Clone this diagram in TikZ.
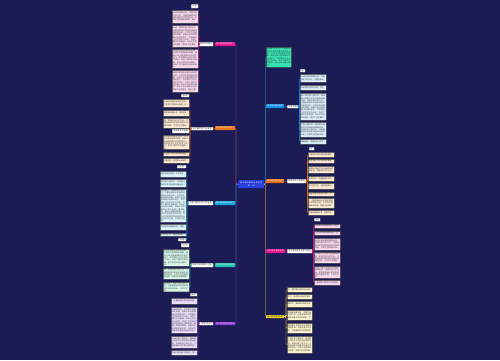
\documentclass[tikz,border=0pt]{standalone}
\usepackage{fontspec}
\setmainfont{Noto Sans CJK SC}
\usepackage{xstring}
\usetikzlibrary{positioning}
\XeTeXlinebreaklocale "zh"
\XeTeXlinebreakskip=0pt plus 1pt

\definecolor{bg}{RGB}{27,27,86}
\definecolor{cblue}{RGB}{40,62,218}
\definecolor{cmag}{RGB}{226,24,140}
\definecolor{corange}{RGB}{232,114,26}
\definecolor{ccyan}{RGB}{26,166,214}
\definecolor{cteal}{RGB}{30,194,172}
\definecolor{cpurple}{RGB}{139,47,214}
\definecolor{caqua}{RGB}{53,230,181}
\definecolor{cblue2}{RGB}{26,143,230}
\definecolor{cyellow}{RGB}{240,208,32}
\definecolor{lpink}{RGB}{247,214,238}
\definecolor{lbeige}{RGB}{251,232,210}
\definecolor{lcyan}{RGB}{217,241,251}
\definecolor{lmint}{RGB}{214,247,234}
\definecolor{llav}{RGB}{233,220,250}
\definecolor{lblue}{RGB}{217,236,251}
\definecolor{lyellow}{RGB}{251,243,207}

\newcommand{\filler}{在高三数学复习教学中，教师要认真研究考试说明和课程标准，把握好复习的方向，注重基础知识的落实和基本技能的训练，引导学生构建知识网络，提高分析问题和解决问题的能力。同时要关注学生的学习状态，及时了解学生的困难，有针对性地进行辅导，使每个学生都能在原有基础上得到提高。课堂上要精讲精练，留给学生足够的思考时间，培养学生的数学思维品质和良好的学习习惯。反思自己的教学过程，总结经验教训，不断改进教学方法，提高课堂教学效率。要重视试卷讲评课，讲评时要突出重点，分析错误原因，归纳解题方法，让学生在反思中提高。}

% box from corner (x1,y1) to corner (x2,y2), picture units
\newcommand{\mmbox}[7]{%
  \pgfmathsetmacro\mmW{(#5-#3)*0.03}%
  \pgfmathsetmacro\mmH{(#6-#4)*0.03}%
  \pgfmathsetmacro\mmT{(#5-#3)*0.8536-1.4}%
  \node[#2, anchor=north west, minimum width=\mmW cm, minimum height=\mmH cm, text width=\mmT pt] (#1) at (#3,#4) {#7};}
\newcommand{\leafbox}[6]{%
  \pgfmathtruncatemacro\mmL{max(1,((#6-#4)*0.8536-1.2)/2)}%
  \pgfmathtruncatemacro\mmC{((#5-#3)*0.8536-1.6)/1.6}%
  \pgfmathtruncatemacro\mmN{\mmL*\mmC}%
  \pgfmathtruncatemacro\mmA{mod(#4*7,50)+1}%
  \pgfmathtruncatemacro\mmB{\mmA+\mmN-1}%
  \StrMid{\filler}{\mmA}{\mmB}[\mmText]%
  \mmbox{#1}{#2}{#3}{#4}{#5}{#6}{\mmText}}

\begin{document}
\begin{tikzpicture}[x=0.03cm, y=-0.03cm, font=\fontsize{1.6}{2}\selectfont,
    box/.style={inner xsep=0.7pt, inner ysep=0.4pt, rounded corners=0.3pt, align=left},
    mainnode/.style={box, fill=#1, text=white, align=center},
    subnode/.style={box, fill=white, draw=black!60, line width=0.3pt, text=black!80, align=center},
    leafnode/.style={box, fill=#1, draw=black!75, line width=0.45pt, text=black!75},
    tagnode/.style={box, fill=white!92!gray, draw=black!60, line width=0.3pt, text=black!80, align=center},
    link/.style={draw=#1, line width=0.35pt, rounded corners=1pt}]
    \fill[bg] (0,0) rectangle (500,360);

    \mmbox{root}{mainnode=cblue}{238}{180}{264}{188}{高三数学教学反思范文\\精选}

    % left side
    \mmbox{L1}{mainnode=cmag}{215}{42}{235}{46}{高三数学教学反思一}
    \mmbox{s1}{subnode}{199}{42}{213}{46}{教学反思要点}
    \mmbox{t1}{tagnode}{191}{4}{198}{8}{反思}
    \draw[link=cmag] (root.west) -- ++(-2,0) |- (L1.east);
    \draw[link=cmag] (L1.west) -- (s1.east);
    \foreach \ya/\yb [count=\i] in {10/23,25/47,49/68,70/92} {
        \leafbox{l1-\i}{leafnode=lpink}{172}{\ya}{198}{\yb}
        \draw[link=cmag] (s1.west) -- ++(-0.5,0) |- (l1-\i.east);
    }

    \mmbox{L2}{mainnode=corange}{215}{126}{235}{130}{高三数学教学反思二}
    \mmbox{s2}{subnode}{191}{127}{213}{130}{复习教学的几点反思}
    \mmbox{t2}{tagnode}{181}{94}{189}{97}{反思}
    \draw[link=corange] (root.west) -- ++(-2,0) |- (L2.east);
    \draw[link=corange] (L2.west) -- (s2.east);
    \foreach \ya/\yb [count=\i] in {99/107,110/116,118/128,135/149,152/156,158/163} {
        \leafbox{l2-\i}{leafnode=lbeige}{163}{\ya}{189}{\yb}
        \draw[link=corange] (s2.west) -- ++(-1,0) |- (l2-\i.east);
    }
    \mmbox{x2}{subnode}{172}{129}{189}{133}{课堂教学的体会}
    \draw[link=corange] (s2.west) -- ++(-1,0) |- (x2.east);

    \mmbox{L3}{mainnode=ccyan}{215}{201}{235}{205}{高三数学教学反思三}
    \mmbox{s3}{subnode}{188}{201}{213}{205}{对数学教学的几点思考}
    \mmbox{t3}{tagnode}{177}{165}{186}{168}{反思}
    \draw[link=ccyan] (root.west) -- ++(-2,0) |- (L3.east);
    \draw[link=ccyan] (L3.west) -- (s3.east);
    \foreach \ya/\yb [count=\i] in {171/177,179/187,189/221,224/230,233/236} {
        \leafbox{l3-\i}{leafnode=lcyan}{160}{\ya}{186}{\yb}
        \draw[link=ccyan] (s3.west) -- ++(-1,0) |- (l3-\i.east);
    }
    \mmbox{x3}{tagnode}{178}{238}{186}{241}{总结}
    \draw[link=ccyan] (s3.west) -- ++(-1,0) |- (x3.east);

    \mmbox{L4}{mainnode=cteal}{215}{263}{235}{267}{高三数学教学反思四}
    \mmbox{s4}{subnode}{191}{263}{213}{267}{教学中的问题与对策}
    \mmbox{t4}{tagnode}{181}{243}{189}{247}{反思}
    \draw[link=cteal] (root.west) -- ++(-2,0) |- (L4.east);
    \draw[link=cteal] (L4.west) -- (s4.east);
    \foreach \ya/\yb [count=\i] in {249/266,268/279,282/291} {
        \leafbox{l4-\i}{leafnode=lmint}{163}{\ya}{189}{\yb}
        \draw[link=cteal] (s4.west) -- ++(-1,0) |- (l4-\i.east);
    }

    \mmbox{L5}{mainnode=cpurple}{215}{322}{235}{325}{高三数学教学反思五}
    \mmbox{s5}{subnode}{199}{322}{213}{325}{教学总结}
    \mmbox{t5}{tagnode}{190}{293}{197}{296}{反思}
    \draw[link=cpurple] (root.west) -- ++(-2,0) |- (L5.east);
    \draw[link=cpurple] (L5.west) -- (s5.east);
    \foreach \ya/\yb [count=\i] in {298/304,307/333,336/348,350/355} {
        \leafbox{l5-\i}{leafnode=llav}{171}{\ya}{197}{\yb}
        \draw[link=cpurple] (s5.west) -- ++(-1,0) |- (l5-\i.east);
    }

    % right side
    \leafbox{R0}{leafnode=caqua}{266}{47}{291}{67}
    \draw[link=cteal] (root.east) -- ++(1,0) |- (R0.west);

    \mmbox{R1}{mainnode=cblue2}{266}{104}{284}{108}{高三数学教学反思}
    \mmbox{r1}{subnode}{287}{105}{298}{108}{反思总结}
    \mmbox{u1}{tagnode}{300}{69}{305}{72}{注}
    \draw[link=cblue2] (root.east) -- ++(1,0) |- (R1.west);
    \draw[link=cblue2] (R1.east) -- (r1.west);
    \foreach \ya/\yb [count=\i] in {74/82,85/90,93/120,122/137,139/144} {
        \leafbox{q1-\i}{leafnode=lblue}{300}{\ya}{326}{\yb}
        \draw[link=cblue2] (r1.east) -- ++(1,0) |- (q1-\i.west);
    }

    \mmbox{R2}{mainnode=corange}{266}{179}{284}{183}{高三数学教学反思}
    \mmbox{r2}{subnode}{287}{179}{306}{183}{教学中的几点体会}
    \mmbox{u2}{tagnode}{309}{147}{314}{150}{注}
    \draw[link=corange] (root.east) -- (R2.west);
    \draw[link=corange] (R2.east) -- (r2.west);
    \foreach \ya/\yb [count=\i] in {152/157,159/163,166/173,176/181,183/189,192/196,198/208,210/215} {
        \leafbox{q2-\i}{leafnode=lbeige}{308}{\ya}{334}{\yb}
        \draw[link=corange] (r2.east) -- ++(1,0) |- (q2-\i.west);
    }

    \mmbox{R3}{mainnode=cmag}{266}{249}{285}{253}{高三数学教学反思}
    \mmbox{r3}{subnode}{287}{249}{312}{253}{高三数学教学反思与改进}
    \mmbox{u3}{tagnode}{314}{218}{320}{221}{反思}
    \draw[link=cmag] (root.east) -- ++(1,0) |- (R3.west);
    \draw[link=cmag] (R3.east) -- (r3.west);
    \foreach \ya/\yb [count=\i] in {224/228,231/235,238/250,252/263,266/278,280/285} {
        \leafbox{q3-\i}{leafnode=lpink}{314}{\ya}{340}{\yb}
        \draw[link=cmag] (r3.east) -- ++(1,0) |- (q3-\i.west);
    }

    \mmbox{R4}{mainnode=cyellow, text=black!80}{266}{315}{284}{318}{高三数学教学反思}
    \draw[link=cyellow] (root.east) -- ++(1,0) |- (R4.west);
    \foreach \ya/\yb [count=\i] in {287/292,294/299,301/307,310/320,323/333,336/353} {
        \leafbox{q4-\i}{leafnode=lyellow}{287}{\ya}{312}{\yb}
        \draw[link=cyellow] (R4.east) -- ++(1.5,0) |- (q4-\i.west);
    }
\end{tikzpicture}
\end{document}
